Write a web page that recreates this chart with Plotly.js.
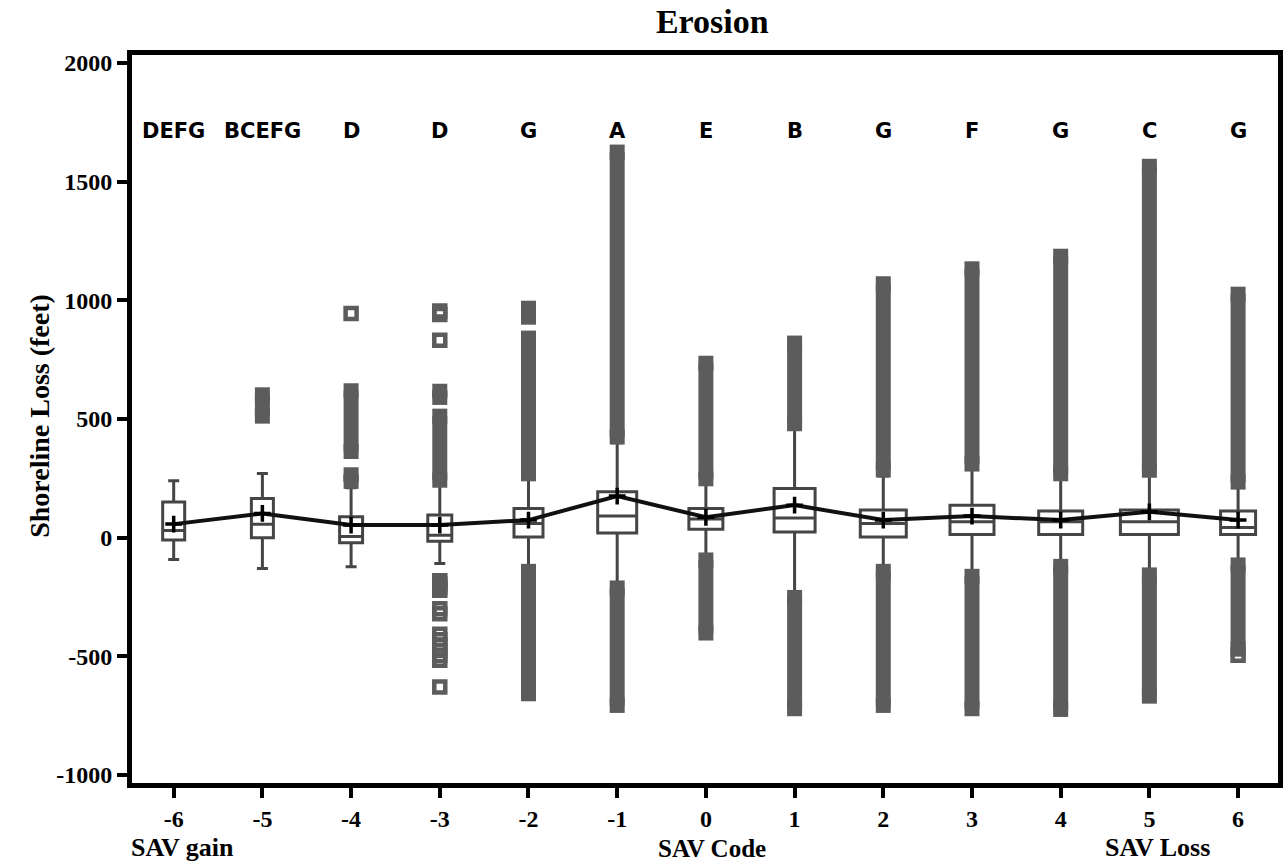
<!DOCTYPE html>
<html>
<head>
<meta charset="utf-8">
<script src="https://cdn.plot.ly/plotly-3.0.1.min.js"></script>
<style>html,body{margin:0;padding:0;background:#fff;}#chart{width:1288px;height:865px;}</style>
</head>
<body>
<div id="chart"></div>
<script>
// ---- data ----
const codes = [-6, -5, -4, -3, -2, -1, 0, 1, 2, 3, 4, 5, 6];
const groupLetters = ['DEFG', 'BCEFG', 'D', 'D', 'G', 'A', 'E', 'B', 'G', 'F', 'G', 'C', 'G'];
const q1 = [-10, 0, -22, -15, 3, 20, 35, 24, 3, 13, 13, 13, 13];
const medians = [30, 56, 5, 10, 60, 91, 79, 83, 60, 67, 67, 67, 43];
const q3 = [150, 165, 88, 95, 123, 193, 123, 207, 116, 137, 112, 116, 112];
const lowerWhisker = [-92, -130, -123, -109, -125, -190, -80, -230, -125, -145, -105, -140, -100];
const upperWhisker = [240, 270, 210, 230, 250, 400, 230, 460, 260, 290, 250, 265, 215];
const means = [57, 102, 53, 53, 74, 175, 86, 137, 74, 91, 74, 109, 74];
// dense runs of outliers: [code, low, high]
const outlierRuns = [
  [-5, 512, 602],
  [-4, 237, 265], [-4, 363, 619],
  [-3, 242, 512], [-3, 591, 617],
  [-2, 269, 841], [-2, 929, 967], [-2, -658, -142],
  [-1, 424, 1625], [-1, -707, -212],
  [0, 248, 735], [0, -402, -94],
  [1, 480, 820], [1, -721, -252],
  [2, 285, 1070], [2, -707, -142],
  [3, 310, 1133], [3, -721, -163],
  [4, 269, 1186], [4, -724, -121],
  [5, 284, 1565], [5, -668, -157],
  [6, 234, 1026], [6, -470, -115]
];
// single outliers: [code, value]
const outlierPoints = [
  [-4, 945],
  [-3, 955], [-3, 940], [-3, 832],
  [-3, -182], [-3, -195], [-3, -210], [-3, -222],
  [-3, -300], [-3, -321],
  [-3, -407], [-3, -430], [-3, -452], [-3, -475], [-3, -497], [-3, -517],
  [-3, -629],
  [6, -496]
];
const yTicks = [-1000, -500, 0, 500, 1000, 1500, 2000];

// ---- styles ----
const boxWidthPx = [22, 22, 23, 24, 29, 39, 34, 41, 46, 44, 44, 58, 35];
const pxPerUnit = 88.7;
const serif = 'Liberation Serif, Times New Roman, serif';
const grey = '#5c5c5c';

const traces = [];

// outlier runs as thick segments
const rx = [], ry = [];
outlierRuns.forEach(r => { rx.push(r[0], r[0], null); ry.push(r[1], r[2], null); });
traces.push({
  type: 'scatter', mode: 'lines+markers', x: rx, y: ry,
  line: {color: grey, width: 15},
  marker: {symbol: 'square', size: 15, color: grey},
  hoverinfo: 'skip', showlegend: false
});
traces.push({
  type: 'scatter', mode: 'markers',
  x: outlierPoints.map(p => p[0]), y: outlierPoints.map(p => p[1]),
  marker: {symbol: 'square-open', size: 11, color: grey, line: {width: 4.5}},
  hoverinfo: 'skip', showlegend: false
});

// boxes
codes.forEach((c, i) => {
  const w = boxWidthPx[i] / pxPerUnit;
  traces.push({
    type: 'box', x: [c],
    q1: [q1[i]], median: [medians[i]], q3: [q3[i]],
    lowerfence: [lowerWhisker[i]], upperfence: [upperWhisker[i]],
    width: w, whiskerwidth: Math.min(1, 11 / boxWidthPx[i]),
    line: {color: '#454545', width: 3}, fillcolor: 'white',
    boxpoints: false, hoverinfo: 'skip', showlegend: false
  });
});

// mean line
traces.push({
  type: 'scatter', mode: 'lines+markers', x: codes, y: means,
  line: {color: '#111', width: 4},
  marker: {symbol: 'cross-thin', size: 12, color: '#000', line: {width: 3.5, color: '#000'}},
  hoverinfo: 'skip', showlegend: false
});

const annotations = codes.map((c, i) => ({
  x: c, y: 1713, xref: 'x', yref: 'y', text: groupLetters[i], showarrow: false,
  font: {family: 'DejaVu Sans, sans-serif', size: 21, color: '#000', weight: 'bold'}
}));
annotations.push({
  xref: 'paper', yref: 'paper', x: -0.096, y: 0.505, text: 'Shoreline Loss (feet)',
  textangle: -90, showarrow: false,
  font: {family: serif, size: 28, color: '#000', weight: 'bold'}
});
annotations.push({
  xref: 'paper', yref: 'paper', x: -0.003, y: 0, xanchor: 'left', yanchor: 'middle', yshift: -64,
  text: 'SAV gain', showarrow: false, font: {family: serif, size: 26, color: '#000', weight: 'bold'}
});
annotations.push({
  xref: 'paper', yref: 'paper', x: 0.506, y: 0, xanchor: 'center', yanchor: 'middle', yshift: -65,
  text: 'SAV Code', showarrow: false, font: {family: serif, size: 25, color: '#000', weight: 'bold'}
});
annotations.push({
  xref: 'paper', yref: 'paper', x: 0.895, y: 0, xanchor: 'center', yanchor: 'middle', yshift: -64,
  text: 'SAV Loss', showarrow: false, font: {family: serif, size: 26, color: '#000', weight: 'bold'}
});

const axisCommon = {
  showline: true, linecolor: '#000', linewidth: 5, mirror: true,
  ticks: 'outside', ticklen: 10, tickwidth: 4, tickcolor: '#000',
  showgrid: false, zeroline: false,
  tickfont: {family: serif, size: 24, color: '#000', weight: 'bold'}
};

const layout = {
  width: 1288, height: 865,
  margin: {l: 132, r: 10, t: 55, b: 82},
  paper_bgcolor: '#fff', plot_bgcolor: '#fff',
  showlegend: false, boxmode: 'overlay',
  title: {
    text: 'Erosion', xref: 'container', yref: 'container', x: 0.553, y: 0.976,
    xanchor: 'center', yanchor: 'middle',
    font: {family: serif, size: 34, color: '#000', weight: 'bold'}
  },
  xaxis: Object.assign({}, axisCommon, {
    range: [-6.47, 6.45], tickvals: codes, ticktext: codes.map(String)
  }),
  yaxis: Object.assign({}, axisCommon, {
    range: [-1034, 2034], tickvals: yTicks, ticktext: yTicks.map(String)
  }),
  annotations: annotations
};

Plotly.newPlot('chart', traces, layout, {displayModeBar: false, staticPlot: true});
</script>
</body>
</html>
